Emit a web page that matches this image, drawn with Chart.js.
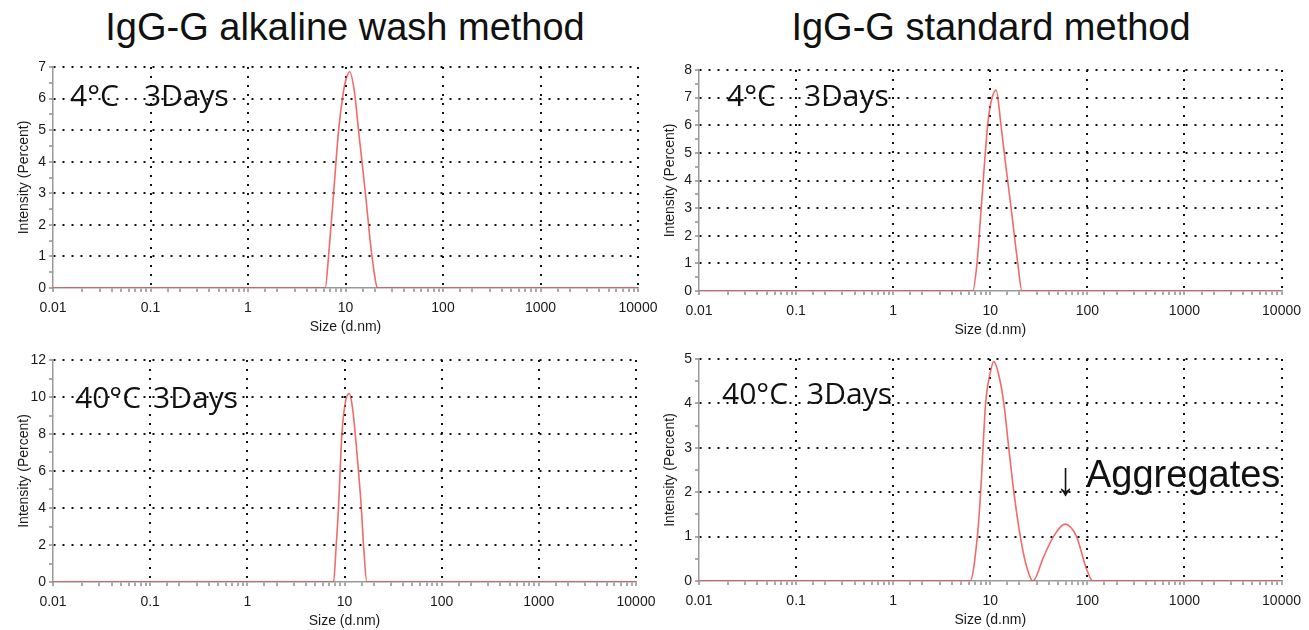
<!DOCTYPE html>
<html>
<head>
<meta charset="utf-8">
<script src="https://cdn.jsdelivr.net/npm/chart.js@4.4.1/dist/chart.umd.min.js"></script>
<style>
  body{margin:0;background:#fff;width:1309px;height:630px;position:relative;overflow:hidden;font-family:"Liberation Sans",Arial,sans-serif;}
  .box{position:absolute;}
  .ttl{position:absolute;font-size:38px;line-height:38px;color:#111;white-space:nowrap;transform:translateX(-50%);}
  .note{position:absolute;font-family:"Open Sans",sans-serif;font-size:30px;line-height:30px;color:#111;white-space:nowrap;}
  .agg{position:absolute;font-size:38px;line-height:38px;color:#111;white-space:nowrap;}
</style>
</head>
<body>
<div class="ttl" style="left:345px;top:8px;">IgG-G alkaline wash method</div>
<div class="ttl" style="left:991px;top:8px;">IgG-G standard method</div>

<div class="box" style="left:0;top:55px;width:670px;height:283px;"><canvas id="c1"></canvas></div>
<div class="box" style="left:646px;top:58px;width:663px;height:283px;"><canvas id="c2"></canvas></div>
<div class="box" style="left:0;top:348px;width:670px;height:284px;"><canvas id="c3"></canvas></div>
<div class="box" style="left:646px;top:347px;width:663px;height:284px;"><canvas id="c4"></canvas></div>

<div class="note" style="left:70px;top:80px;">4°C<span style="margin-left:25px">3Days</span></div>
<div class="note" style="left:727px;top:80px;">4°C<span style="margin-left:28px">3Days</span></div>
<div class="note" style="left:75px;top:382px;">40°C<span style="margin-left:12px">3Days</span></div>
<div class="note" style="left:722px;top:378px;">40°C<span style="margin-left:19px">3Days</span></div>
<div class="agg" style="left:1056px;top:455px;transform:scaleY(1.25);transform-origin:0 0;">↓</div>
<div class="agg" style="left:1086px;top:455px;">Aggregates</div>

<script>
var xTickLabels = ['0.01','0.1','1','10','100','1000','10000'];

// IgG-G alkaline wash, 4C 3 days
var alk4Size = [0.01, 6.2, 6.7, 7.55, 8.5, 9.4, 10.0, 11.0, 12.3, 13.6, 16.0, 18.7, 21.5, 10000];
var alk4Int  = [0,    0,   1.0, 3.0,  5.0, 6.1, 6.55, 6.85, 6.25, 5.0, 3.0,  1.0,  0,    0];

// IgG-G standard, 4C 3 days
var std4Size = [0.01, 6.6, 7.3, 8.07, 9.4, 10.2, 11.5, 12.9, 14.5, 16.4, 19.2, 21.2, 10000];
var std4Int  = [0,    0,   1.0, 3.0,  6.0, 6.85, 7.27, 6.0,  4.5,  3.0,  1.0,  0,    0];

// IgG-G alkaline wash, 40C 3 days
var alk40Size = [0.01, 7.7, 8.22, 8.67, 9.4, 10.2, 11.2, 12.1, 12.9, 14.9, 15.7, 17.0, 10000];
var alk40Int  = [0,    0,   2,    4,    8,   9.7,  10.18, 9.4, 8,    4,    2,    0,    0];

// IgG-G standard, 40C 3 days
var std40Size = [0.01, 6.2, 7.36, 7.96, 8.96, 9.9, 10.9, 12.2, 13.8, 15.5, 17.5, 20.4, 23.5, 27.5, 35.5, 44.8, 58.7, 77.4, 97, 114.5, 10000];
var std40Int  = [0,    0,   1,    2,    4,    4.65, 4.94, 4.65, 4,   3,    2,    1,    0.35, 0,    0.55, 1,    1.28, 1,    0.3, 0,    0];

function isDecade(v){
  var l = Math.log10(v);
  return Math.abs(l - Math.round(l)) < 1e-6;
}

function makePanel(id, sizes, vals, yMax, yStep, padRight){
  var pts = sizes.map(function(s, i){ return {x: s, y: vals[i]}; });
  return new Chart(document.getElementById(id), {
    type: 'line',
    data: {
      datasets: [{
        data: pts,
        borderColor: 'rgba(236,70,70,0.8)',
        borderWidth: 1.6,
        pointRadius: 0,
        cubicInterpolationMode: 'monotone',
        fill: false
      }]
    },
    options: {
      responsive: true,
      maintainAspectRatio: false,
      animation: false,
      layout: {padding: {left: 0, top: 12, right: padRight, bottom: 0}},
      plugins: {legend: {display: false}, tooltip: {enabled: false}},
      scales: {
        x: {
          type: 'logarithmic',
          min: 0.01,
          max: 10000,
          afterFit: function(s){ s.height = 50; },
          border: {color: '#999', width: 1.5, dash: [2, 7]},
          grid: {
            lineWidth: 2,
            color: function(c){
              if (!c.tick) return 'transparent';
              var v = c.tick.value;
              return (isDecade(v) && v > 0.011) ? '#111' : 'transparent';
            },
            tickColor: '#555',
            tickWidth: 1,
            tickLength: 4
          },
          ticks: {
            autoSkip: false,
            maxRotation: 0,
            padding: 8,
            color: '#1a1a1a',
            font: {family: '"Liberation Sans", Arial', size: 14},
            callback: function(v){
              if (!isDecade(v)) return '';
              return xTickLabels[Math.round(Math.log10(v)) + 2];
            }
          },
          title: {
            display: true,
            text: 'Size (d.nm)',
            color: '#1a1a1a',
            padding: {top: 0, bottom: 2},
            font: {family: '"Liberation Sans", Arial', size: 14}
          }
        },
        y: {
          min: 0,
          max: yMax,
          afterFit: function(s){ s.width = 53; },
          border: {color: '#999', width: 1.5, dash: [2, 7]},
          grid: {
            lineWidth: 2,
            color: function(c){
              if (!c.tick) return 'transparent';
              var v = c.tick.value;
              var r = v / yStep;
              return (v > 0 && Math.abs(r - Math.round(r)) < 1e-6) ? '#111' : 'transparent';
            },
            tickColor: '#555',
            tickWidth: 1,
            tickLength: 4
          },
          ticks: {
            stepSize: yStep / 2,
            autoSkip: false,
            padding: 3,
            color: '#1a1a1a',
            font: {family: '"Liberation Sans", Arial', size: 14},
            callback: function(v){
              var r = v / yStep;
              return Math.abs(r - Math.round(r)) < 1e-6 ? String(v) : '';
            }
          },
          title: {
            display: true,
            text: 'Intensity (Percent)',
            color: '#1a1a1a',
            padding: {top: 16, bottom: 0},
            font: {family: '"Liberation Sans", Arial', size: 14}
          }
        }
      }
    }
  });
}

makePanel('c1', alk4Size, alk4Int, 7, 1, 32);
makePanel('c2', std4Size, std4Int, 8, 1, 23);
makePanel('c3', alk40Size, alk40Int, 12, 2, 34);
makePanel('c4', std40Size, std40Int, 5, 1, 22);
</script>
</body>
</html>
